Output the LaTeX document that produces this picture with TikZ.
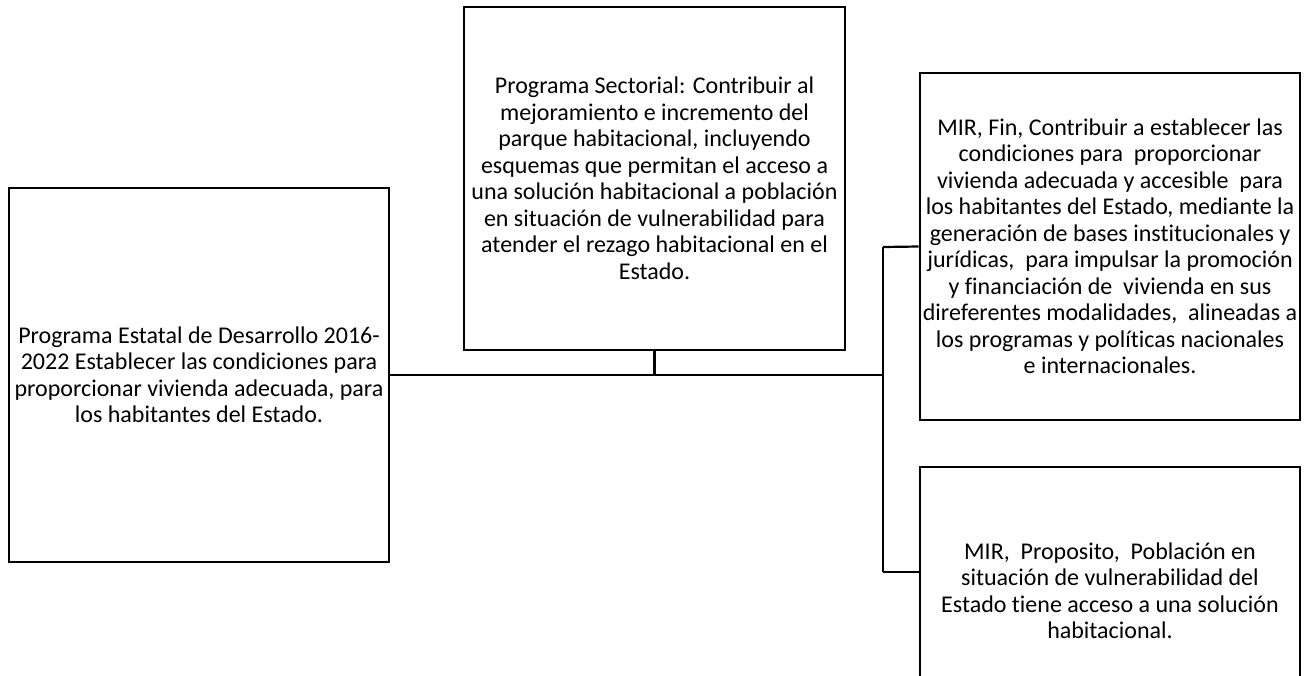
\documentclass[tikz,border=0pt]{standalone}
\usepackage{fontspec}
\setmainfont{Carlito}[Ligatures=NoCommon]
\usetikzlibrary{positioning, calc}
\tikzset{
	box/.style={draw, line width=2.8pt, align=center, inner sep=2pt,
		font=\fontsize{24}{26.5}\selectfont},
	link/.style={line width=2.2pt},
}

\begin{document}
\begin{tikzpicture}[x=1pt, y=-1pt]
		\useasboundingbox (0,0) rectangle (1308,675);

		% Boxes
		\node[box, minimum width=380pt, minimum height=374pt] (estatal) at (199,375) {Programa Estatal de Desarrollo 2016-\\2022 Establecer las condiciones para\\proporcionar vivienda adecuada, para\\los habitantes del Estado.};

		\node[box, minimum width=381pt, minimum height=343pt] (sectorial) at (654.5,178.5) {Programa Sectorial: Contribuir al\\mejoramiento e incremento del\\parque habitacional, incluyendo\\esquemas que permitan el acceso a\\una solución habitacional a población\\en situación de vulnerabilidad para\\atender el rezago habitacional en el\\Estado.};

		\node[box, minimum width=380pt, minimum height=347pt] (fin) at (1110,246.5) {MIR, Fin, Contribuir a establecer las\\condiciones para~ proporcionar\\vivienda adecuada y accesible~ para\\los habitantes del Estado, mediante la\\generación de bases institucionales y\\jurídicas,~ para impulsar la promoción\\y financiación de~ vivienda en sus\\direferentes modalidades,~ alineadas a\\los programas y políticas nacionales\\e internacionales.};

		\node[box, minimum width=380pt, minimum height=248pt] (proposito) at (1110,591) {MIR,~ Proposito,~ Población en\\situación de vulnerabilidad del\\Estado tiene acceso a una solución\\habitacional.};

		% Connectors
		\coordinate (junction) at (883,375);
		\coordinate (top) at (883,247);
		\coordinate (bottom) at (883,572);

		\draw[link] (estatal.east) -- (junction);
		\draw[link] (sectorial.south) -- (sectorial.south |- junction);
		\draw[link] (top) -- (bottom);
		\draw[link] (top) -- (fin.west);
		\draw[link] (bottom) -- (bottom -| proposito.west);
	\end{tikzpicture}
\end{document}
